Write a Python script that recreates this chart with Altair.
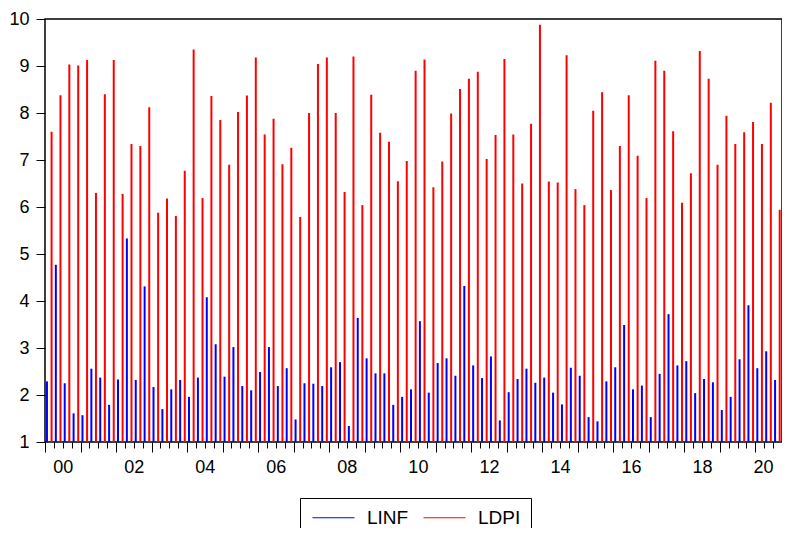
import altair as alt
import pandas as pd

# Quarterly data, 2000Q1 .. 2020Q3
start_year = 2000
series_names = ["LINF", "LDPI"]
series_colors = ["#0000FF", "#FF0000"]

linf = [
    2.29, 4.77, 2.25, 1.61,
    1.57, 2.56, 2.37, 1.79,
    2.33, 5.33, 2.32, 4.31,
    2.17, 1.70, 2.12, 2.32,
    1.96, 2.37, 4.08, 3.08,
    2.39, 3.02, 2.19, 2.10,
    2.49, 3.02, 2.19, 2.57,
    1.48, 2.25, 2.24, 2.19,
    2.59, 2.70, 1.34, 3.64,
    2.78, 2.46, 2.46, 1.79,
    1.96, 2.12, 3.57, 2.05,
    2.68, 2.78, 2.41, 4.32,
    2.63, 2.36, 2.82, 1.46,
    2.06, 2.34, 2.56, 2.26,
    2.37, 2.05, 1.80, 2.58,
    2.41, 1.53, 1.44, 2.29,
    2.59, 3.49, 2.12, 2.20,
    1.53, 2.45, 3.72, 2.63,
    2.72, 2.04, 2.34, 2.27,
    1.68, 1.96, 2.76, 3.91,
    2.57, 2.93, 2.32,
]

ldpi = [
    7.60, 8.38, 9.03, 9.01,
    9.13, 6.30, 8.40, 9.13,
    6.28, 7.34, 7.30, 8.12,
    5.88, 6.18, 5.81, 6.77,
    9.35, 6.19, 8.36, 7.85,
    6.90, 8.02, 8.37, 9.18,
    7.54, 7.88, 6.91, 7.26,
    5.79, 8.00, 9.04, 9.18,
    8.00, 6.32, 9.20, 6.04,
    8.39, 7.58, 7.39, 6.55,
    6.98, 8.90, 9.14, 6.42,
    6.97, 7.99, 8.51, 8.73,
    8.88, 7.02, 7.53, 9.15,
    7.54, 6.50, 7.77, 9.88,
    6.54, 6.52, 9.23, 6.38,
    6.04, 8.05, 8.44, 6.36,
    7.30, 8.38, 7.09, 6.19,
    9.11, 8.90, 7.61, 6.09,
    6.72, 9.32, 8.73, 6.90,
    7.94, 7.34, 7.59, 7.81,
    7.34, 8.22, 5.94,
]

y_ticks = list(range(1, 11))
major_ticks = list(range(2000, 2021))
minor_ticks = [2000 + k / 4 for k in range(84) if k % 4 != 0]

rows = []
for i, (a, b) in enumerate(zip(linf, ldpi)):
    t = start_year + i / 4
    rows.append({"t": t + 0.055, "value": a, "series": "LINF"})
    rows.append({"t": t + 0.185, "value": b, "series": "LDPI"})
df = pd.DataFrame(rows)

font = "Liberation Sans"

x_scale = alt.Scale(domain=[2000, 2020.75], nice=False, zero=False)
y_scale = alt.Scale(domain=[1, 10], nice=False, zero=False)
color_scale = alt.Scale(domain=series_names, range=series_colors)

legend = alt.Legend(
    orient="none", legendX=255, legendY=479, direction="horizontal", title=None,
    symbolType="M-3,0H3", symbolSize=196, symbolOffset=14, symbolStrokeWidth=1.2,
    labelOffset=24, labelFontSize=19, labelFont=font, labelColor="black",
    padding=10, columnPadding=12, strokeColor="black",
)

y_axis = alt.Axis(
    values=y_ticks, tickSize=9, labelPadding=7, labelFontSize=18, labelFont=font,
    labelColor="black", tickColor="black", domain=False, grid=False, title=None,
)

blue = alt.Chart(df[df.series == "LINF"]).mark_rule(strokeWidth=2).encode(
    x=alt.X("t:Q", scale=x_scale, axis=alt.Axis(
        values=minor_ticks, tickSize=6, labels=False, domain=False, grid=False,
        title=None, orient="bottom", tickColor="black")),
    y=alt.Y("value:Q", scale=y_scale, axis=y_axis),
    y2=alt.datum(1),
    color=alt.Color("series:N", scale=color_scale, legend=legend),
)

red = alt.Chart(df[df.series == "LDPI"]).mark_rule(strokeWidth=2).encode(
    x=alt.X("t:Q", scale=x_scale, axis=alt.Axis(
        values=major_ticks, tickSize=10, domain=False, grid=False, title=None,
        orient="bottom", tickColor="black",
        labelExpr="datum.value % 2 === 0 ? slice(toString(datum.value), 2) : ''",
        labelAlign={"condition": {"test": "datum.value === 2020", "value": "right"},
                    "value": "center"},
        labelOffset=17.7, labelFlush=False, labelOverlap=False, labelPadding=6,
        labelFontSize=18, labelFont=font, labelColor="black")),
    y=alt.Y("value:Q", scale=y_scale, axis=y_axis),
    y2=alt.datum(1),
    color=alt.Color("series:N", scale=color_scale, legend=legend),
)

chart = alt.layer(blue, red).resolve_axis(x="independent").properties(
    width=737, height=423,
    autosize=alt.AutoSizeParams(type="none"),
    padding={"left": 37, "top": 11, "right": 0, "bottom": 86},
).configure_view(stroke="black", strokeWidth=1.5)

chart.save("out.html", embed_options={"renderer": "svg", "actions": False})
